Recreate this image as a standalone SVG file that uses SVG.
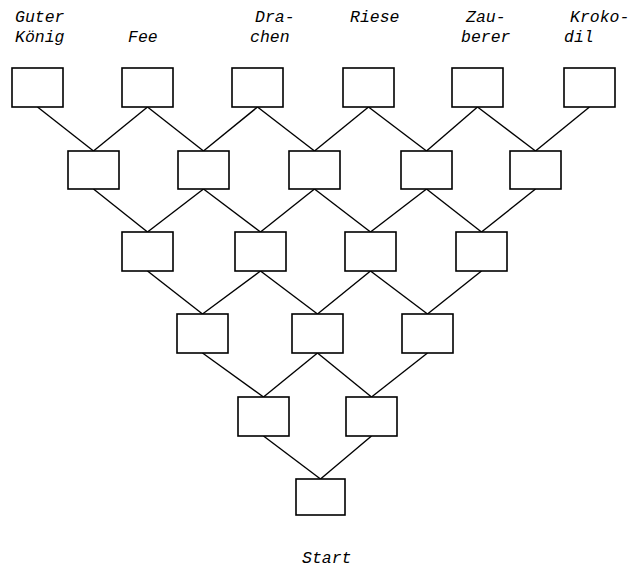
<svg xmlns="http://www.w3.org/2000/svg" width="633" height="568" viewBox="0 0 633 568">
<style>
.b{fill:#fff;stroke:#000;stroke-width:1.6}
.c line{stroke:#000;stroke-width:1.4}
text{font-family:"Liberation Mono","Courier New",monospace;font-style:italic;font-size:16.5px;fill:#000}
</style>
<rect width="633" height="568" fill="#fff"/>
<g id="labels">
<text x="15" y="22">Guter</text><text x="15" y="42">König</text>
<text x="128" y="42">Fee</text>
<text x="255" y="22">Dra-</text><text x="250" y="42">chen</text>
<text x="350" y="22">Riese</text>
<text x="466" y="22">Zau-</text><text x="461" y="42">berer</text>
<text x="570" y="22">Kroko-</text><text x="564" y="42">dil</text>
<text x="302" y="563">Start</text>
</g>
<g class="c" id="connectors">
<line x1="37.5" y1="107" x2="93.5" y2="151"/>
<line x1="147.5" y1="107" x2="93.5" y2="151"/>
<line x1="147.5" y1="107" x2="203.5" y2="151"/>
<line x1="257.5" y1="107" x2="203.5" y2="151"/>
<line x1="257.5" y1="107" x2="314.5" y2="151"/>
<line x1="368.5" y1="107" x2="314.5" y2="151"/>
<line x1="368.5" y1="107" x2="426.5" y2="151"/>
<line x1="477.5" y1="107" x2="426.5" y2="151"/>
<line x1="477.5" y1="107" x2="535.5" y2="151"/>
<line x1="589.5" y1="107" x2="535.5" y2="151"/>
<line x1="93.5" y1="189" x2="147.5" y2="232"/>
<line x1="203.5" y1="189" x2="147.5" y2="232"/>
<line x1="203.5" y1="189" x2="260.5" y2="232"/>
<line x1="314.5" y1="189" x2="260.5" y2="232"/>
<line x1="314.5" y1="189" x2="370.5" y2="232"/>
<line x1="426.5" y1="189" x2="370.5" y2="232"/>
<line x1="426.5" y1="189" x2="481.5" y2="232"/>
<line x1="535.5" y1="189" x2="481.5" y2="232"/>
<line x1="147.5" y1="271" x2="202.5" y2="314"/>
<line x1="260.5" y1="271" x2="202.5" y2="314"/>
<line x1="260.5" y1="271" x2="317.5" y2="314"/>
<line x1="370.5" y1="271" x2="317.5" y2="314"/>
<line x1="370.5" y1="271" x2="427.5" y2="314"/>
<line x1="481.5" y1="271" x2="427.5" y2="314"/>
<line x1="202.5" y1="353" x2="263.5" y2="397"/>
<line x1="317.5" y1="353" x2="263.5" y2="397"/>
<line x1="317.5" y1="353" x2="371.5" y2="397"/>
<line x1="427.5" y1="353" x2="371.5" y2="397"/>
<line x1="263.5" y1="436" x2="320.5" y2="479"/>
<line x1="371.5" y1="436" x2="320.5" y2="479"/>
</g>
<g id="r1b1"><rect class="b" x="12" y="68" width="51" height="39"/></g>
<g id="r1b2"><rect class="b" x="122" y="68" width="51" height="39"/></g>
<g id="r1b3"><rect class="b" x="232" y="68" width="51" height="39"/></g>
<g id="r1b4"><rect class="b" x="343" y="68" width="51" height="39"/></g>
<g id="r1b5"><rect class="b" x="452" y="68" width="51" height="39"/></g>
<g id="r1b6"><rect class="b" x="564" y="68" width="51" height="39"/></g>
<g id="r2b1"><rect class="b" x="68" y="151" width="51" height="38"/></g>
<g id="r2b2"><rect class="b" x="178" y="151" width="51" height="38"/></g>
<g id="r2b3"><rect class="b" x="289" y="151" width="51" height="38"/></g>
<g id="r2b4"><rect class="b" x="401" y="151" width="51" height="38"/></g>
<g id="r2b5"><rect class="b" x="510" y="151" width="51" height="38"/></g>
<g id="r3b1"><rect class="b" x="122" y="232" width="51" height="39"/></g>
<g id="r3b2"><rect class="b" x="235" y="232" width="51" height="39"/></g>
<g id="r3b3"><rect class="b" x="345" y="232" width="51" height="39"/></g>
<g id="r3b4"><rect class="b" x="456" y="232" width="51" height="39"/></g>
<g id="r4b1"><rect class="b" x="177" y="314" width="51" height="39"/></g>
<g id="r4b2"><rect class="b" x="292" y="314" width="51" height="39"/></g>
<g id="r4b3"><rect class="b" x="402" y="314" width="51" height="39"/></g>
<g id="r5b1"><rect class="b" x="238" y="397" width="51" height="39"/></g>
<g id="r5b2"><rect class="b" x="346" y="397" width="51" height="39"/></g>
<g id="r6b1"><rect class="b" x="296" y="479" width="49" height="36"/></g>
</svg>
